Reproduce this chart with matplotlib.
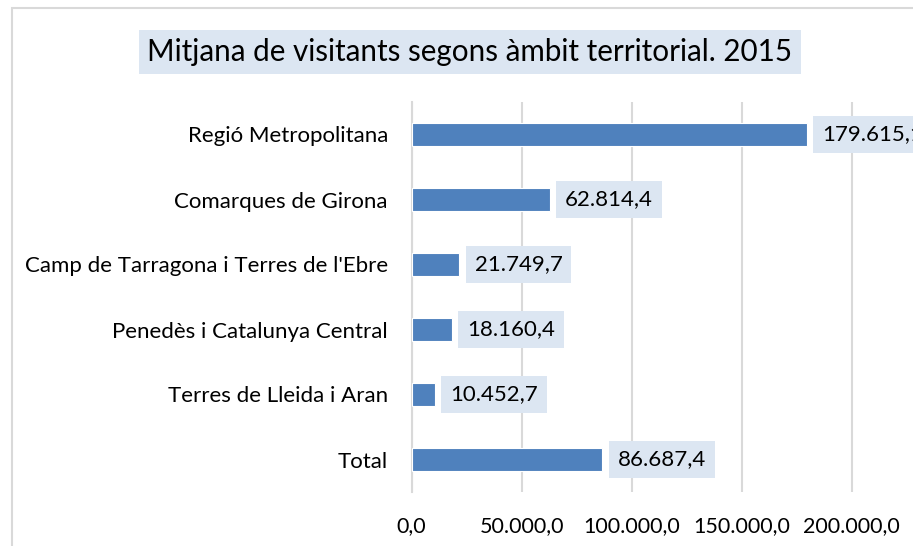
import matplotlib.pyplot as plt
from matplotlib.patches import Rectangle

plt.rcParams['font.family'] = ['Lato', 'DejaVu Sans']

categories = ['Regió Metropolitana', 'Comarques de Girona',
              "Camp de Tarragona i Terres de l'Ebre", 'Penedès i Catalunya Central',
              'Terres de Lleida i Aran', 'Total']
values = [179615.1, 62814.4, 21749.7, 18160.4, 10452.7, 86687.4]
ticks = [0, 50000, 100000, 150000, 200000]
title = 'Mitjana de visitants segons àmbit territorial. 2015'

bar_color = '#4F81BD'
box_color = '#DCE6F2'
grid_color = '#D9D9D9'


def fmt(v):
    # Catalan style: dot thousands, comma decimal
    s = f'{v:,.1f}'
    return s.replace(',', 'X').replace('.', ',').replace('X', '.')


fig = plt.figure(figsize=(9.13, 5.46), dpi=100)

# outer chart border (cropped at right/bottom)
fig.patches.append(Rectangle((12 / 913, -0.1), 1.2, (546 - 8) / 546 + 0.1,
                             transform=fig.transFigure, fill=False,
                             edgecolor=grid_color, linewidth=1.5))

# axis runs to 250.000, past the right edge of the picture
ax = fig.add_axes([411.6 / 913, 1 - 492 / 546, 550 / 913, 390 / 546])
y = list(range(len(categories)))
ax.barh(y, values, height=0.35, color=bar_color, edgecolor='white', linewidth=0.8, zorder=3)
ax.set_ylim(len(categories) - 0.5, -0.5)
ax.set_xlim(0, 250000)
ax.set_xticks(ticks)
ax.set_xticklabels([fmt(t) for t in ticks], fontsize=15.5)
ax.set_yticks(y)
ax.set_yticklabels(categories, fontsize=16)
ax.tick_params(axis='both', length=0, colors='black')
ax.tick_params(axis='x', pad=17)
ax.tick_params(axis='y', pad=17)
ax.grid(axis='x', color=grid_color, linewidth=1.5, zorder=0)
for s in ['top', 'right', 'bottom']:
    ax.spines[s].set_visible(False)
ax.spines['left'].set_color(grid_color)
ax.spines['left'].set_linewidth(1.5)

for yi, v in zip(y, values):
    ax.annotate(fmt(v), (v, yi), xytext=(11, 0), textcoords='offset points',
                va='center', ha='left', fontsize=16, annotation_clip=False,
                bbox=dict(boxstyle='square,pad=0.4', facecolor=box_color, edgecolor='none'))

fig.text(470 / 913, 1 - 52 / 546, title, ha='center', va='center', fontsize=21.3,
         bbox=dict(boxstyle='square,pad=0.28', facecolor=box_color, edgecolor='none'))

fig.savefig('out.png', dpi=100)
